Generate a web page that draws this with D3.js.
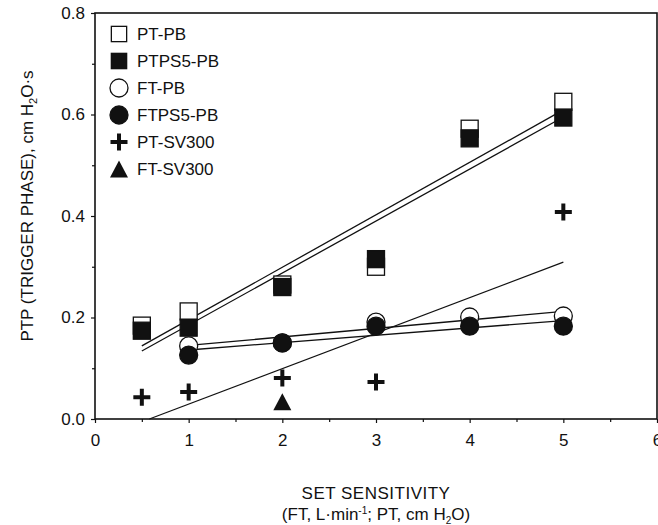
<!DOCTYPE html>
<html>
<head>
<meta charset="utf-8">
<script src="https://cdn.jsdelivr.net/npm/d3@7"></script>
<style>
  body { margin: 0; background: #fff; }
  svg text { font-family: "Liberation Sans", Arial, sans-serif; fill: #111; }
</style>
</head>
<body>
<div id="chart"></div>
<script>
// series values
const seriesNames = ["PT-PB", "PTPS5-PB", "FT-PB", "FTPS5-PB", "PT-SV300", "FT-SV300"];
const xPB = [0.5, 1, 2, 3, 4, 5];
const ptPB = [0.184, 0.212, 0.265, 0.300, 0.572, 0.625];
const ptps5PB = [0.174, 0.180, 0.260, 0.315, 0.553, 0.594];
const xFT = [1, 2, 3, 4, 5];
const ftPB = [0.144, 0.150, 0.191, 0.201, 0.203];
const ftps5PB = [0.126, 0.150, 0.183, 0.183, 0.183];
const xSV = [0.5, 1, 2, 3, 5];
const ptSV300 = [0.043, 0.053, 0.081, 0.073, 0.408];
const xFTSV = [2];
const ftSV300 = [0.034];

// regression lines, [x, y] end points
const fitPtPB = [[0.5, 0.144], [5, 0.609]];
const fitPtps5PB = [[0.5, 0.134], [5, 0.595]];
const fitFtPB = [[1, 0.145], [5, 0.212]];
const fitFtps5PB = [[1, 0.136], [5, 0.194]];
const fitPtSV = [[0.58, 0], [5, 0.309]];

const xTicks = [0, 1, 2, 3, 4, 5, 6];
const xMinor = [0.5, 1.5, 2.5, 3.5, 4.5, 5.5];
const yTicks = [0, 0.2, 0.4, 0.6, 0.8];
const yMinor = [0.1, 0.3, 0.5, 0.7];

const W = 658, H = 525;
const margin = { top: 13, right: 1, bottom: 106, left: 95 };
const FS = 17;

const svg = d3.select("#chart").append("svg")
    .attr("width", W).attr("height", H);

const x = d3.scaleLinear().domain([0, 6]).range([margin.left, W - margin.right]);
const y = d3.scaleLinear().domain([0, 0.8]).range([H - margin.bottom, margin.top]);

// axes
const gx = svg.append("g").attr("transform", `translate(0,${y(0)})`)
    .call(d3.axisBottom(x).tickValues(xTicks).tickFormat(d3.format("d")).tickSize(4).tickPadding(11));
const gxm = svg.append("g").attr("transform", `translate(0,${y(0)})`)
    .call(d3.axisBottom(x).tickValues(xMinor).tickFormat("").tickSize(3));
const gy = svg.append("g").attr("transform", `translate(${x(0)},0)`)
    .call(d3.axisLeft(y).tickValues(yTicks).tickFormat(d3.format(".1f")).tickSize(4).tickPadding(6));
const gym = svg.append("g").attr("transform", `translate(${x(0)},0)`)
    .call(d3.axisLeft(y).tickValues(yMinor).tickFormat("").tickSize(3));

[gx, gxm, gy, gym].forEach(g => {
  g.select(".domain").remove();
  g.selectAll("line").attr("stroke", "#111").attr("stroke-width", 1.2);
  g.selectAll("text").attr("font-size", FS).attr("font-family", "Liberation Sans, Arial, sans-serif").attr("fill", "#111");
});

// frame
svg.append("rect")
    .attr("x", x(0)).attr("y", y(0.8))
    .attr("width", x(6) - x(0)).attr("height", y(0) - y(0.8))
    .attr("fill", "none").attr("stroke", "#111").attr("stroke-width", 1.6);

// fit lines
const line = d3.line().x(d => x(d[0])).y(d => y(d[1]));
[fitPtPB, fitPtps5PB, fitFtPB, fitFtps5PB, fitPtSV].forEach(f => {
  svg.append("path").attr("d", line(f))
      .attr("fill", "none").attr("stroke", "#111").attr("stroke-width", 1.3);
});

// marker shapes
const SQ = 17, CR = 9;
function drawMarker(g, type, cx, cy, s) {
  const k = s || 1;
  if (type === "sqOpen" || type === "sqFill") {
    g.append("rect")
        .attr("x", cx - SQ * k / 2).attr("y", cy - SQ * k / 2)
        .attr("width", SQ * k).attr("height", SQ * k)
        .attr("fill", type === "sqFill" ? "#111" : "#fff")
        .attr("stroke", "#111").attr("stroke-width", 1.3);
  } else if (type === "ciOpen" || type === "ciFill") {
    g.append("circle").attr("cx", cx).attr("cy", cy).attr("r", CR * k)
        .attr("fill", type === "ciFill" ? "#111" : "#fff")
        .attr("stroke", "#111").attr("stroke-width", 1.3);
  } else if (type === "plus") {
    const h = 8.5 * k;
    g.append("path")
        .attr("d", `M${cx - h},${cy}H${cx + h}M${cx},${cy - h}V${cy + h}`)
        .attr("stroke", "#111").attr("stroke-width", 4);
  } else if (type === "tri") {
    const w = 9 * k, hh = 8.5 * k;
    g.append("path")
        .attr("d", `M${cx},${cy - hh}L${cx + w},${cy + hh}L${cx - w},${cy + hh}Z`)
        .attr("fill", "#111");
  }
}

const markerTypes = ["sqOpen", "sqFill", "ciOpen", "ciFill", "plus", "tri"];
const seriesX = [xPB, xPB, xFT, xFT, xSV, xFTSV];
const seriesY = [ptPB, ptps5PB, ftPB, ftps5PB, ptSV300, ftSV300];

const marks = svg.append("g");
seriesY.forEach((vals, i) => {
  vals.forEach((v, j) => drawMarker(marks, markerTypes[i], x(seriesX[i][j]), y(v)));
});

// legend
const legend = svg.append("g");
seriesNames.forEach((name, i) => {
  const ly = 34 + i * 27;
  drawMarker(legend, markerTypes[i], 119, ly, i < 2 ? 0.9 : 1);
  legend.append("text").attr("x", 137).attr("y", ly + 6)
      .attr("font-size", FS).text(name);
});

// y axis title
const yt = svg.append("text")
    .attr("transform", `translate(33,206) rotate(-90)`)
    .attr("text-anchor", "middle").attr("font-size", FS);
yt.append("tspan").text("PTP (TRIGGER PHASE), cm H");
yt.append("tspan").attr("font-size", 11).attr("dy", 4).text("2");
yt.append("tspan").attr("dy", -4).text("O·s");

// x axis title
svg.append("text").attr("x", (x(0) + x(6)) / 2).attr("y", 499)
    .attr("text-anchor", "middle").attr("font-size", FS)
    .attr("letter-spacing", 0.5).text("SET SENSITIVITY");
const xt = svg.append("text").attr("x", (x(0) + x(6)) / 2).attr("y", 520)
    .attr("text-anchor", "middle").attr("font-size", FS);
xt.append("tspan").text("(FT, L·min");
xt.append("tspan").attr("font-size", 10).attr("dy", -6).text("-1");
xt.append("tspan").attr("dy", 6).text("; PT, cm H");
xt.append("tspan").attr("font-size", 10).attr("dy", 4).text("2");
xt.append("tspan").attr("dy", -4).text("O)");
</script>
</body>
</html>
